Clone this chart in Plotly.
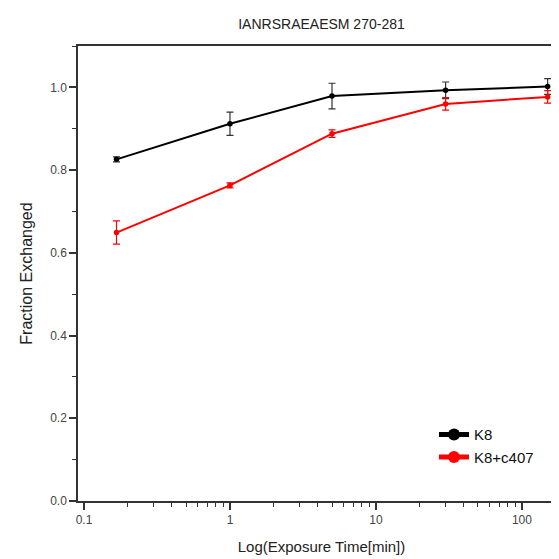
import plotly.graph_objects as go

# Data
time_min = [0.167, 1, 5, 30, 150]
k8 = [0.826, 0.912, 0.979, 0.993, 1.002]
k8_err = [0.006, 0.028, 0.031, 0.02, 0.019]
k8c = [0.649, 0.763, 0.888, 0.960, 0.977]
k8c_err = [0.028, 0.006, 0.009, 0.015, 0.015]
x_tickvals = [0.1, 1, 10, 100]
x_ticktext = ["0.1", "1", "10", "100"]
x_minor_ticks = [m * d for d in (0.1, 1, 10, 100) for m in range(2, 10)]

FONT = "Liberation Sans, Arial, sans-serif"

fig = go.Figure()
fig.add_trace(go.Scatter(
    x=time_min, y=k8, name="K8", mode="lines+markers",
    line=dict(color="black", width=2),
    marker=dict(color="black", size=5.5),
    error_y=dict(type="data", array=k8_err, color="#333333", thickness=1.2, width=3.5),
))
fig.add_trace(go.Scatter(
    x=time_min, y=k8c, name="K8+c407", mode="lines+markers",
    line=dict(color="#ff0000", width=2),
    marker=dict(color="#ff0000", size=5.5),
    error_y=dict(type="data", array=k8c_err, color="#ff0000", thickness=1.2, width=3.5),
))

fig.update_layout(
    width=559, height=559,
    margin=dict(l=70, r=2, t=38, b=66, autoexpand=False),
    paper_bgcolor="white", plot_bgcolor="white",
    font=dict(family=FONT, color="#222222"),
    title=dict(text="IANRSRAEAESM 270-281", xref="paper", x=0.5, xanchor="center",
               yref="container", y=1 - 16 / 559, yanchor="middle",
               font=dict(size=14, color="#222222")),
    showlegend=True,
    legend=dict(x=0.731, y=0.182, xanchor="left", yanchor="top",
                font=dict(size=15, color="#111111"), bgcolor="rgba(0,0,0,0)",
                itemsizing="constant"),
)

fig.update_xaxes(
    type="log", range=[-1.041, 2.295], automargin=False,
    tickvals=x_tickvals, ticktext=x_ticktext,
    ticks="outside", ticklen=7, tickwidth=1.5, tickcolor="#333333",
    minor=dict(tickvals=x_minor_ticks, ticks="outside", ticklen=4, tickwidth=1,
               tickcolor="#333333", showgrid=False),
    showline=True, linecolor="#333333", linewidth=1.5, mirror=True,
    showgrid=False, zeroline=False,
    tickfont=dict(size=12, color="#444444"),
    title=dict(text="Log(Exposure Time[min])", font=dict(size=15, color="#222222"), standoff=15),
)
fig.update_yaxes(
    range=[0, 1.1], dtick=0.2, tick0=0, tickformat=".1f", automargin=False,
    ticks="outside", ticklen=7, tickwidth=1.5, tickcolor="#333333",
    minor=dict(dtick=0.1, ticks="outside", ticklen=4, tickwidth=1, tickcolor="#333333", showgrid=False),
    showline=True, linecolor="#333333", linewidth=1.5, mirror=True,
    showgrid=False, zeroline=False,
    tickfont=dict(size=12, color="#444444"),
    title=dict(text="Fraction Exchanged", font=dict(size=16, color="#222222"), standoff=14),
)

fig.write_html("out.html")
